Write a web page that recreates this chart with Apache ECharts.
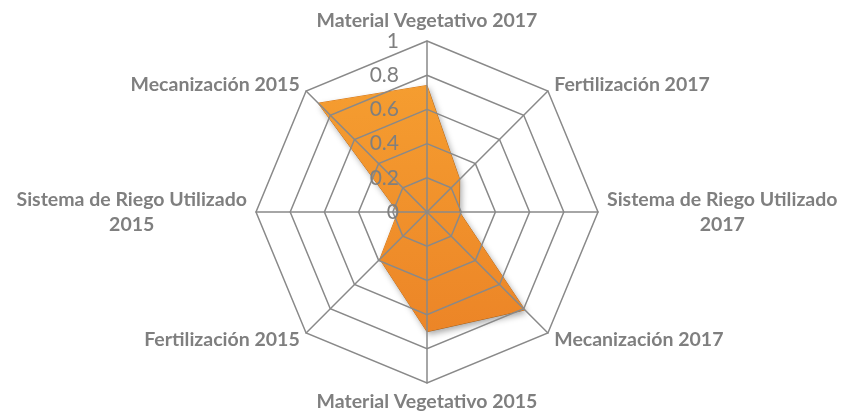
<!DOCTYPE html>
<html>
<head>
<meta charset="utf-8">
<style>
  html, body { margin: 0; padding: 0; background: #fff; }
  #chart { width: 842px; height: 420px; }
</style>
<script src="https://cdn.jsdelivr.net/npm/echarts@6/dist/echarts.min.js"></script>
</head>
<body>
<div id="chart"></div>
<script>
// categories clockwise from the top, as in the reference
const categories = [
  "Material Vegetativo 2017",
  "Fertilización 2017",
  "Sistema de Riego Utilizado 2017",
  "Mecanización 2017",
  "Material Vegetativo 2015",
  "Fertilización 2015",
  "Sistema de Riego Utilizado 2015",
  "Mecanización 2015",
];
const values = [0.74, 0.27, 0.19, 0.81, 0.7, 0.39, 0.17, 0.9];
const maxValue = 1;

// echarts radar goes counter-clockwise, so walk the list backwards after the top axis
const order = [0, 7, 6, 5, 4, 3, 2, 1];

const gridColor = "#898989";
const textColor = "#7f7f7f";

const chart = echarts.init(document.getElementById("chart"));

const indicators = order.map((i, k) => {
  const ind = { name: categories[i], max: maxValue, min: 0 };
  if (k === 0) {
    // only the vertical axis carries the tick labels
    ind.axisLabel = {
      show: true,
      color: textColor,
      fontFamily: "Lato",
      fontSize: 21,
      margin: 28,
    };
  }
  return ind;
});

chart.setOption({
  animation: false,
  radar: {
    z: 3, // grid and labels sit over the filled area
    center: [427, 212],
    radius: 171,
    shape: "polygon",
    splitNumber: 5,
    indicator: indicators,
    nameGap: 9,
    axisName: {
      color: textColor,
      fontFamily: "Lato",
      fontWeight: "bold",
      fontSize: 19.5,
      formatter: function (name) {
        if (name.indexOf("Sistema") === 0) {
          const parts = name.split(" ");
          const year = parts.pop();
          return "{c|" + parts.join(" ") + "}\n{c|" + year + "}";
        }
        return name;
      },
      rich: {
        c: {
          align: "center",
          color: textColor,
          fontFamily: "Lato",
          fontWeight: "bold",
          fontSize: 19.5,
          lineHeight: 25,
        },
      },
    },
    axisLabel: { show: false },
    axisTick: { show: false },
    axisLine: { lineStyle: { color: gridColor, width: 1.5 } },
    splitLine: { lineStyle: { color: gridColor, width: 1.5 } },
    splitArea: { show: false },
  },
  series: [
    {
      type: "radar",
      symbol: "none",
      data: [
        {
          value: order.map((i) => values[i]),
          lineStyle: { color: "#e2801e", width: 1 },
          areaStyle: {
            opacity: 1,
            color: new echarts.graphic.LinearGradient(0, 0, 0, 1, [
              { offset: 0, color: "#f59d30" },
              { offset: 1, color: "#ec8527" },
            ]),
            shadowBlur: 6,
            shadowColor: "rgba(0,0,0,0.35)",
            shadowOffsetX: 2,
            shadowOffsetY: 3,
          },
        },
      ],
    },
  ],
});
</script>
</body>
</html>
